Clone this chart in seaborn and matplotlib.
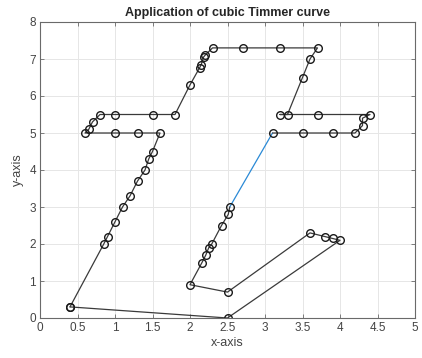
import matplotlib
matplotlib.use("Agg")
import matplotlib.pyplot as plt
import seaborn as sns
import pandas as pd

# Control polygon (black/gray polyline with open circle markers), in drawing order
poly_x = [0.4, 0.85, 0.9, 1.0, 1.1, 1.2, 1.3, 1.4, 1.45, 1.5, 1.6,
          1.3, 1.0, 0.6, 0.65, 0.7, 0.8, 1.0, 1.5, 1.8,
          2.0, 2.13, 2.15, 2.18, 2.2, 2.3, 2.7, 3.2, 3.7,
          3.6, 3.5, 3.3, 3.2, 3.7, 4.4, 4.3, 4.3, 4.2, 3.9, 3.5, 3.1]
poly_y = [0.3, 2.0, 2.2, 2.6, 3.0, 3.3, 3.7, 4.0, 4.3, 4.5, 5.0,
          5.0, 5.0, 5.0, 5.1, 5.3, 5.5, 5.5, 5.5, 5.5,
          6.3, 6.77, 6.85, 7.05, 7.1, 7.3, 7.3, 7.3, 7.3,
          7.0, 6.5, 5.5, 5.5, 5.5, 5.5, 5.4, 5.2, 5.0, 5.0, 5.0, 5.0]

poly2_x = [2.53, 2.51, 2.42, 2.29, 2.25, 2.21, 2.16, 2.0, 2.5, 3.6, 3.8, 3.9, 4.0, 2.5, 0.4]
poly2_y = [3.0, 2.8, 2.5, 2.0, 1.9, 1.7, 1.5, 0.9, 0.7, 2.3, 2.2, 2.15, 2.1, 0.0, 0.3]

# Blue curve segment
blue_x = [3.1, 2.53]
blue_y = [5.0, 3.0]

title = "Application of cubic Timmer curve"
xlabel = "x-axis"
ylabel = "y-axis"
xticks = [0, 0.5, 1, 1.5, 2, 2.5, 3, 3.5, 4, 4.5, 5]
xticklabels = ["0", "0.5", "1", "1.5", "2", "2.5", "3", "3.5", "4", "4.5", "5"]
yticks = [0, 1, 2, 3, 4, 5, 6, 7, 8]

sns.set_style("white")
plt.rcParams['font.family'] = ['Liberation Sans', 'DejaVu Sans']

fig = plt.figure(figsize=(4.22, 3.58), dpi=100)
ax = fig.add_axes([40/422, 40/358, 375/422, 296/358])

marker_kw = dict(marker='o', markersize=5.5, markerfacecolor='none',
                 markeredgecolor='#1a1a1a', markeredgewidth=1.0)

df1 = pd.DataFrame({"x": poly_x, "y": poly_y})
df2 = pd.DataFrame({"x": poly2_x, "y": poly2_y})
dfb = pd.DataFrame({"x": blue_x, "y": blue_y})

sns.lineplot(data=dfb, x="x", y="y", sort=False, estimator=None, ax=ax,
             color='#2b8ad6', linewidth=0.9)
sns.lineplot(data=df1, x="x", y="y", sort=False, estimator=None, ax=ax,
             color='#3a3a3a', linewidth=0.9, **marker_kw)
sns.lineplot(data=df2, x="x", y="y", sort=False, estimator=None, ax=ax,
             color='#3a3a3a', linewidth=0.9, **marker_kw)

ax.set_xlim(0, 5)
ax.set_ylim(0, 8)
ax.set_xticks(xticks)
ax.set_xticklabels(xticklabels)
ax.set_yticks(yticks)
ax.grid(True, color='#e6e6e6', linewidth=0.7)
ax.set_axisbelow(True)
for s in ax.spines.values():
    s.set_visible(True)
    s.set_color('#6a6a6a')
    s.set_linewidth(0.8)
ax.tick_params(direction='in', length=3, width=0.6, color='#6a6a6a',
               labelsize=8.5, labelcolor='#444444',
               top=True, right=True, bottom=True, left=True, pad=3)
ax.set_title(title, fontsize=9, fontweight='bold', pad=4)
ax.set_xlabel(xlabel, fontsize=9, color='#444444', labelpad=2)
ax.set_ylabel(ylabel, fontsize=9, color='#444444', labelpad=4)

fig.savefig("out.png", dpi=100)
